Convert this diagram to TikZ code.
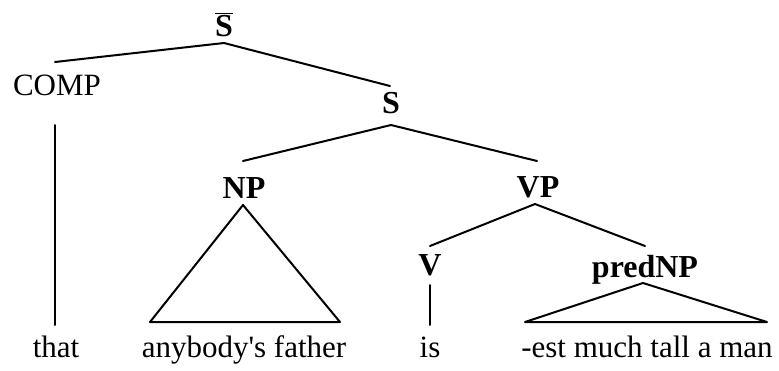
\documentclass[tikz,border=0pt]{standalone}
\usepackage{fontspec}
\setmainfont{Liberation Serif}
\usetikzlibrary{calc}
\begin{document}
\begin{tikzpicture}[x=1pt,y=-1pt,
  every node/.style={inner sep=0pt,outer sep=0pt,anchor=base,font=\fontsize{31}{36}\selectfont},
  cat/.style={font=\fontsize{32}{36}\selectfont\bfseries},
  branch/.style={line width=2pt,line cap=round,line join=round}]
\useasboundingbox (0,0) rectangle (779,370);

% category labels
\node[cat] (sbar) at (224,36) {$\overline{\hbox{\bfseries S}}$};
\node (comp) at (57,95) {COMP};
\node[cat] (s) at (391,113) {S};
\node[cat] (np) at (244,198) {NP};
\node[cat] (vp) at (538,197) {VP};
\node[cat] (v) at (430,275) {V};
\node[cat] (pnp) at (645,277) {predNP};

% words
\node (w1) at (56,357) {that};
\node (w2) at (244,357) {anybody\textquotesingle s father};
\node (w3) at (430,357) {is};
\node (w4) at (647,357) {-est much tall a man};

% branches
\draw[branch] ($(sbar.base)+(0,7)$) -- ($(comp.base)+(-2,-33)$);
\draw[branch] ($(sbar.base)+(0,7)$) -- ($(s.base)+(-1,-27)$);
\draw[branch] ($(s.base)+(0,12)$) -- ($(np.base)+(-1,-37)$);
\draw[branch] ($(s.base)+(0,12)$) -- ($(vp.base)+(-1,-36)$);
\draw[branch] ($(vp.base)+(-3,7)$) -- ($(v.base)+(0,-29)$);
\draw[branch] ($(vp.base)+(-3,7)$) -- ($(pnp.base)+(0,-31)$);

% unary lines and triangles down to the words
\draw[branch] ($(comp.base)+(-2,30)$) -- ($(w1.base)+(-1,-32)$);
\draw[branch] ($(v.base)+(0,10)$) -- ($(w3.base)+(0,-32)$);
\draw[branch] ($(np.base)+(-1,7)$) -- ($(w2.base)+(-94,-35)$) -- ($(w2.base)+(96,-35)$) -- cycle;
\draw[branch] ($(pnp.base)+(-2,6)$) -- ($(w4.base)+(-122,-35)$) -- ($(w4.base)+(120,-35)$) -- cycle;
\end{tikzpicture}
\end{document}
